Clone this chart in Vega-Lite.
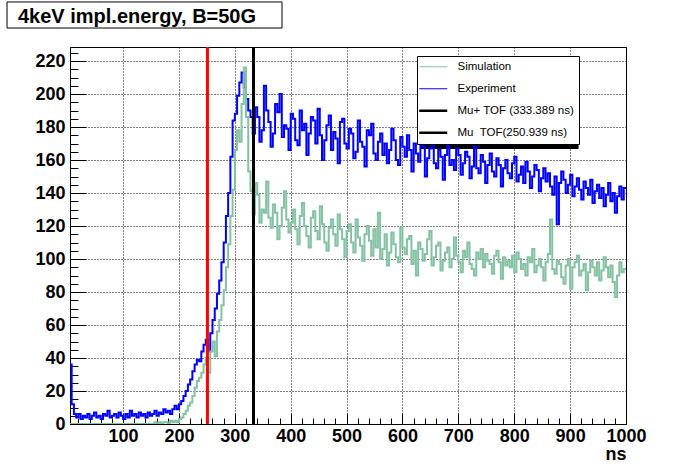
{
  "$schema": "https://vega.github.io/schema/vega-lite/v6.json",
  "width": 556,
  "height": 377,
  "autosize": {"type": "none"},
  "padding": {"left": 70, "top": 47, "right": 70, "bottom": 48},
  "background": "white",
  "config": {
    "font": "Liberation Sans",
    "view": {"stroke": "black", "strokeWidth": 1},
    "axis": {
      "labelFont": "Liberation Sans", "labelFontSize": 18, "labelFontWeight": "bold", "labelColor": "black",
      "titleFont": "Liberation Sans", "titleColor": "black",
      "tickColor": "black", "tickWidth": 1, "domainColor": "black",
      "gridColor": "black", "gridDash": [1, 2], "gridWidth": 1
    }
  },
  "datasets": {
    "hist": [
      {"t":4,"Experiment":36,"Simulation":0},{"t":8,"Experiment":12,"Simulation":0},{"t":12,"Experiment":6,"Simulation":0},{"t":16,"Experiment":4,"Simulation":0},{"t":20,"Experiment":6,"Simulation":0},
      {"t":24,"Experiment":3,"Simulation":0},{"t":28,"Experiment":5,"Simulation":0},{"t":32,"Experiment":4,"Simulation":0},{"t":36,"Experiment":6,"Simulation":0},{"t":40,"Experiment":3,"Simulation":0},
      {"t":44,"Experiment":5,"Simulation":0},{"t":48,"Experiment":7,"Simulation":0},{"t":52,"Experiment":4,"Simulation":0},{"t":56,"Experiment":5,"Simulation":0},{"t":60,"Experiment":3,"Simulation":0},
      {"t":64,"Experiment":6,"Simulation":0},{"t":68,"Experiment":5,"Simulation":0},{"t":72,"Experiment":8,"Simulation":0},{"t":76,"Experiment":4,"Simulation":0},{"t":80,"Experiment":5,"Simulation":0},
      {"t":84,"Experiment":6,"Simulation":0},{"t":88,"Experiment":4,"Simulation":0},{"t":92,"Experiment":7,"Simulation":0},{"t":96,"Experiment":5,"Simulation":0},{"t":100,"Experiment":3,"Simulation":0},
      {"t":104,"Experiment":6,"Simulation":0},{"t":108,"Experiment":4,"Simulation":0},{"t":112,"Experiment":8,"Simulation":0},{"t":116,"Experiment":5,"Simulation":0},{"t":120,"Experiment":6,"Simulation":0},
      {"t":124,"Experiment":4,"Simulation":0},{"t":128,"Experiment":7,"Simulation":0},{"t":132,"Experiment":5,"Simulation":0},{"t":136,"Experiment":6,"Simulation":0},{"t":140,"Experiment":4,"Simulation":0},
      {"t":144,"Experiment":7,"Simulation":0},{"t":148,"Experiment":5,"Simulation":0},{"t":152,"Experiment":6,"Simulation":0},{"t":156,"Experiment":8,"Simulation":1},{"t":160,"Experiment":5,"Simulation":0},
      {"t":164,"Experiment":7,"Simulation":1},{"t":168,"Experiment":6,"Simulation":0},{"t":172,"Experiment":9,"Simulation":1},{"t":176,"Experiment":7,"Simulation":1},{"t":180,"Experiment":8,"Simulation":0},
      {"t":184,"Experiment":6,"Simulation":2},{"t":188,"Experiment":9,"Simulation":1},{"t":192,"Experiment":11,"Simulation":2},{"t":196,"Experiment":9,"Simulation":1},{"t":200,"Experiment":12,"Simulation":3},
      {"t":204,"Experiment":14,"Simulation":4},{"t":208,"Experiment":17,"Simulation":6},{"t":212,"Experiment":20,"Simulation":8},{"t":216,"Experiment":24,"Simulation":11},{"t":220,"Experiment":27,"Simulation":13},
      {"t":224,"Experiment":32,"Simulation":17},{"t":228,"Experiment":36,"Simulation":22},{"t":232,"Experiment":39,"Simulation":26},{"t":236,"Experiment":38,"Simulation":28},{"t":240,"Experiment":44,"Simulation":31},
      {"t":244,"Experiment":48,"Simulation":36},{"t":248,"Experiment":51,"Simulation":40},{"t":252,"Experiment":44,"Simulation":31},{"t":256,"Experiment":55,"Simulation":44},{"t":260,"Experiment":63,"Simulation":50},
      {"t":264,"Experiment":70,"Simulation":41},{"t":268,"Experiment":79,"Simulation":56},{"t":272,"Experiment":87,"Simulation":63},{"t":276,"Experiment":98,"Simulation":72},{"t":280,"Experiment":110,"Simulation":81},
      {"t":284,"Experiment":126,"Simulation":95},{"t":288,"Experiment":140,"Simulation":109},{"t":292,"Experiment":162,"Simulation":126},{"t":296,"Experiment":184,"Simulation":142},{"t":300,"Experiment":188,"Simulation":166},
      {"t":304,"Experiment":199,"Simulation":178},{"t":308,"Experiment":207,"Simulation":171},{"t":312,"Experiment":213,"Simulation":194},{"t":316,"Experiment":204,"Simulation":216},{"t":320,"Experiment":197,"Simulation":186},
      {"t":324,"Experiment":190,"Simulation":153},{"t":328,"Experiment":186,"Simulation":141},{"t":332,"Experiment":176,"Simulation":127},{"t":336,"Experiment":192,"Simulation":146},{"t":340,"Experiment":186,"Simulation":139},
      {"t":344,"Experiment":171,"Simulation":122},{"t":348,"Experiment":178,"Simulation":130},{"t":352,"Experiment":205,"Simulation":128},{"t":356,"Experiment":190,"Simulation":147},{"t":360,"Experiment":183,"Simulation":125},
      {"t":364,"Experiment":168,"Simulation":119},{"t":368,"Experiment":176,"Simulation":133},{"t":372,"Experiment":194,"Simulation":128},{"t":376,"Experiment":189,"Simulation":112},{"t":380,"Experiment":200,"Simulation":120},
      {"t":384,"Experiment":174,"Simulation":131},{"t":388,"Experiment":181,"Simulation":141},{"t":392,"Experiment":179,"Simulation":124},{"t":396,"Experiment":166,"Simulation":116},{"t":400,"Experiment":188,"Simulation":122},
      {"t":404,"Experiment":185,"Simulation":130},{"t":408,"Experiment":172,"Simulation":118},{"t":412,"Experiment":169,"Simulation":109},{"t":416,"Experiment":190,"Simulation":126},{"t":420,"Experiment":178,"Simulation":134},
      {"t":424,"Experiment":182,"Simulation":120},{"t":428,"Experiment":163,"Simulation":114},{"t":432,"Experiment":176,"Simulation":107},{"t":436,"Experiment":186,"Simulation":125},{"t":440,"Experiment":184,"Simulation":129},
      {"t":444,"Experiment":170,"Simulation":117},{"t":448,"Experiment":191,"Simulation":112},{"t":452,"Experiment":175,"Simulation":132},{"t":456,"Experiment":160,"Simulation":121},{"t":460,"Experiment":172,"Simulation":110},
      {"t":464,"Experiment":181,"Simulation":105},{"t":468,"Experiment":187,"Simulation":119},{"t":472,"Experiment":166,"Simulation":124},{"t":476,"Experiment":177,"Simulation":115},{"t":480,"Experiment":173,"Simulation":108},
      {"t":484,"Experiment":158,"Simulation":127},{"t":488,"Experiment":183,"Simulation":118},{"t":492,"Experiment":185,"Simulation":112},{"t":496,"Experiment":170,"Simulation":101},{"t":500,"Experiment":167,"Simulation":117},
      {"t":504,"Experiment":179,"Simulation":121},{"t":508,"Experiment":176,"Simulation":110},{"t":512,"Experiment":161,"Simulation":104},{"t":516,"Experiment":165,"Simulation":124},{"t":520,"Experiment":184,"Simulation":113},
      {"t":524,"Experiment":171,"Simulation":108},{"t":528,"Experiment":168,"Simulation":99},{"t":532,"Experiment":156,"Simulation":115},{"t":536,"Experiment":178,"Simulation":120},{"t":540,"Experiment":175,"Simulation":111},
      {"t":544,"Experiment":182,"Simulation":102},{"t":548,"Experiment":164,"Simulation":118},{"t":552,"Experiment":160,"Simulation":107},{"t":556,"Experiment":171,"Simulation":128},{"t":560,"Experiment":176,"Simulation":100},
      {"t":564,"Experiment":163,"Simulation":106},{"t":568,"Experiment":170,"Simulation":115},{"t":572,"Experiment":158,"Simulation":96},{"t":576,"Experiment":166,"Simulation":104},{"t":580,"Experiment":179,"Simulation":116},
      {"t":584,"Experiment":172,"Simulation":109},{"t":588,"Experiment":160,"Simulation":101},{"t":592,"Experiment":157,"Simulation":98},{"t":596,"Experiment":174,"Simulation":119},{"t":600,"Experiment":168,"Simulation":107},
      {"t":604,"Experiment":162,"Simulation":103},{"t":608,"Experiment":175,"Simulation":112},{"t":612,"Experiment":166,"Simulation":114},{"t":616,"Experiment":153,"Simulation":97},{"t":620,"Experiment":170,"Simulation":105},
      {"t":624,"Experiment":164,"Simulation":90},{"t":628,"Experiment":159,"Simulation":110},{"t":632,"Experiment":172,"Simulation":106},{"t":636,"Experiment":168,"Simulation":99},{"t":640,"Experiment":150,"Simulation":103},
      {"t":644,"Experiment":161,"Simulation":112},{"t":648,"Experiment":167,"Simulation":117},{"t":652,"Experiment":173,"Simulation":96},{"t":656,"Experiment":158,"Simulation":101},{"t":660,"Experiment":155,"Simulation":108},
      {"t":664,"Experiment":166,"Simulation":110},{"t":668,"Experiment":162,"Simulation":93},{"t":672,"Experiment":148,"Simulation":99},{"t":676,"Experiment":163,"Simulation":104},{"t":680,"Experiment":171,"Simulation":107},
      {"t":684,"Experiment":157,"Simulation":95},{"t":688,"Experiment":160,"Simulation":100},{"t":692,"Experiment":154,"Simulation":113},{"t":696,"Experiment":167,"Simulation":102},{"t":700,"Experiment":163,"Simulation":98},
      {"t":704,"Experiment":151,"Simulation":92},{"t":708,"Experiment":158,"Simulation":105},{"t":712,"Experiment":165,"Simulation":101},{"t":716,"Experiment":162,"Simulation":110},{"t":720,"Experiment":149,"Simulation":97},
      {"t":724,"Experiment":156,"Simulation":94},{"t":728,"Experiment":168,"Simulation":90},{"t":732,"Experiment":155,"Simulation":104},{"t":736,"Experiment":152,"Simulation":100},{"t":740,"Experiment":163,"Simulation":106},
      {"t":744,"Experiment":159,"Simulation":95},{"t":748,"Experiment":146,"Simulation":103},{"t":752,"Experiment":157,"Simulation":99},{"t":756,"Experiment":164,"Simulation":97},{"t":760,"Experiment":153,"Simulation":91},
      {"t":764,"Experiment":150,"Simulation":102},{"t":768,"Experiment":161,"Simulation":105},{"t":772,"Experiment":157,"Simulation":98},{"t":776,"Experiment":144,"Simulation":88},{"t":780,"Experiment":155,"Simulation":101},
      {"t":784,"Experiment":160,"Simulation":96},{"t":788,"Experiment":152,"Simulation":99},{"t":792,"Experiment":149,"Simulation":95},{"t":796,"Experiment":158,"Simulation":102},{"t":800,"Experiment":162,"Simulation":92},
      {"t":804,"Experiment":147,"Simulation":104},{"t":808,"Experiment":151,"Simulation":100},{"t":812,"Experiment":156,"Simulation":94},{"t":816,"Experiment":146,"Simulation":97},{"t":820,"Experiment":159,"Simulation":90},
      {"t":824,"Experiment":153,"Simulation":101},{"t":828,"Experiment":143,"Simulation":98},{"t":832,"Experiment":150,"Simulation":106},{"t":836,"Experiment":157,"Simulation":92},{"t":840,"Experiment":154,"Simulation":96},
      {"t":844,"Experiment":141,"Simulation":100},{"t":848,"Experiment":149,"Simulation":95},{"t":852,"Experiment":155,"Simulation":87},{"t":856,"Experiment":147,"Simulation":98},{"t":860,"Experiment":152,"Simulation":103},
      {"t":864,"Experiment":144,"Simulation":124},{"t":868,"Experiment":139,"Simulation":94},{"t":872,"Experiment":150,"Simulation":91},{"t":876,"Experiment":121,"Simulation":99},{"t":880,"Experiment":146,"Simulation":97},
      {"t":884,"Experiment":153,"Simulation":89},{"t":888,"Experiment":148,"Simulation":85},{"t":892,"Experiment":140,"Simulation":96},{"t":896,"Experiment":145,"Simulation":100},{"t":900,"Experiment":151,"Simulation":82},
      {"t":904,"Experiment":138,"Simulation":95},{"t":908,"Experiment":144,"Simulation":98},{"t":912,"Experiment":149,"Simulation":102},{"t":916,"Experiment":142,"Simulation":90},{"t":920,"Experiment":136,"Simulation":93},
      {"t":924,"Experiment":147,"Simulation":97},{"t":928,"Experiment":143,"Simulation":81},{"t":932,"Experiment":139,"Simulation":92},{"t":936,"Experiment":148,"Simulation":99},{"t":940,"Experiment":134,"Simulation":95},
      {"t":944,"Experiment":141,"Simulation":90},{"t":948,"Experiment":145,"Simulation":98},{"t":952,"Experiment":137,"Simulation":87},{"t":956,"Experiment":143,"Simulation":93},{"t":960,"Experiment":132,"Simulation":101},
      {"t":964,"Experiment":139,"Simulation":95},{"t":968,"Experiment":146,"Simulation":89},{"t":972,"Experiment":135,"Simulation":96},{"t":976,"Experiment":140,"Simulation":86},{"t":980,"Experiment":128,"Simulation":77},
      {"t":984,"Experiment":138,"Simulation":90},{"t":988,"Experiment":144,"Simulation":98},{"t":992,"Experiment":136,"Simulation":92},{"t":996,"Experiment":143,"Simulation":94},{"t":1000,"Experiment":143,"Simulation":94}
    ],
    "tof": [
      {"name": "Mu+ TOF (333.389 ns)", "t": 333.389},
      {"name": "Mu\u00a0 TOF(250.939 ns)", "t": 250.939}
    ]
  },
  "layer": [
    {
      "data": {"values": [{}]},
      "mark": {"type": "rect", "clip": false, "fill": "white", "stroke": "black", "strokeWidth": 1},
      "encoding": {
        "x": {"datum": -107.7, "type": "quantitative", "scale": {"domain": [5, 1000]}},
        "x2": {"datum": 384.4},
        "y": {"datum": 255.8, "type": "quantitative", "scale": {"domain": [0, 228.5]}},
        "y2": {"datum": 240}
      }
    },
    {
      "data": {"values": [{"label": "4keV impl.energy, B=50G"}]},
      "mark": {"type": "text", "clip": false, "align": "left", "baseline": "alphabetic", "font": "Liberation Sans", "fontSize": 20, "fontWeight": "bold", "color": "black"},
      "encoding": {
        "x": {"datum": -88.1, "type": "quantitative", "scale": {"domain": [5, 1000]}},
        "y": {"datum": 243, "type": "quantitative", "scale": {"domain": [0, 228.5]}},
        "text": {"field": "label"}
      }
    },
    {
      "data": {"values": [{}]},
      "mark": {"type": "rect", "clip": false, "fill": "black"},
      "encoding": {
        "x": {"datum": 633.1, "type": "quantitative", "scale": {"domain": [5, 1000]}},
        "x2": {"datum": 915},
        "y": {"datum": 220.6, "type": "quantitative", "scale": {"domain": [0, 228.5]}},
        "y2": {"datum": 166.7}
      }
    },
    {
      "data": {"name": "hist"},
      "transform": [{"fold": ["Experiment", "Simulation"], "as": ["series", "count"]}],
      "mark": {"type": "line", "interpolate": "step-after", "strokeWidth": 2, "clip": true},
      "encoding": {
        "x": {
          "field": "t", "type": "quantitative", "scale": {"domain": [5, 1000]},
          "axis": {
            "orient": "bottom",
            "values": [20, 40, 60, 80, 100, 120, 140, 160, 180, 200, 220, 240, 260, 280, 300, 320, 340, 360, 380, 400, 420, 440, 460, 480, 500, 520, 540, 560, 580, 600, 620, 640, 660, 680, 700, 720, 740, 760, 780, 800, 820, 840, 860, 880, 900, 920, 940, 960, 980, 1000],
            "tickCount": 1000,
            "format": "d",
            "labelExpr": "datum.value % 100 === 0 ? datum.label : ''",
            "labelOverlap": false, "labelBound": false,
            "tickSize": {"condition": {"test": "datum.value % 100 === 0", "value": -11}, "value": -6},
            "gridOpacity": {"condition": {"test": "datum.value % 100 === 0", "value": 1}, "value": 0},
            "labelPadding": 14, "labelFlush": false, "grid": true,
            "title": "ns", "titleFontSize": 18, "titleFontWeight": "bold",
            "titleAnchor": "end", "titleAlign": "right", "titleX": 556, "titleY": 35, "titleBaseline": "alphabetic"
          }
        },
        "y": {
          "field": "count", "type": "quantitative", "scale": {"domain": [0, 228.5]},
          "axis": {
            "orient": "left",
            "values": [0, 5, 10, 15, 20, 25, 30, 35, 40, 45, 50, 55, 60, 65, 70, 75, 80, 85, 90, 95, 100, 105, 110, 115, 120, 125, 130, 135, 140, 145, 150, 155, 160, 165, 170, 175, 180, 185, 190, 195, 200, 205, 210, 215, 220, 225],
            "tickCount": 1000,
            "format": "d",
            "labelExpr": "datum.value % 20 === 0 ? datum.label : ''",
            "labelOverlap": false, "labelBound": false,
            "tickSize": {"condition": {"test": "datum.value % 20 === 0", "value": -16}, "value": -8},
            "gridOpacity": {"condition": {"test": "datum.value % 20 === 0", "value": 1}, "value": 0},
            "labelPadding": 21, "grid": true, "title": null
          }
        },
        "color": {
          "field": "series", "type": "nominal",
          "scale": {"domain": ["Simulation", "Experiment", "Mu+ TOF (333.389 ns)", "Mu\u00a0 TOF(250.939 ns)"], "range": ["#85c2a3", "#0000ff", "#000000", "#000000"]},
          "legend": {
            "orient": "none", "legendX": 347, "legendY": 9, "title": null,
            "symbolType": "stroke", "symbolSize": 784, "symbolStrokeWidth": 1, "symbolOffset": 5.5,
            "labelFont": "Liberation Sans", "labelFontSize": 11.5, "labelFontWeight": "normal", "labelColor": "black",
            "labelOffset": 18.5, "fillColor": "white", "strokeColor": "black", "padding": 5, "rowPadding": 9,
            "encode": {"symbols": {"update": {"strokeWidth": {"signal": "datum.index >= 2 ? 2.5 : 1"}}}}
          }
        }
      }
    },
    {
      "data": {"name": "tof"},
      "mark": {"type": "rule", "strokeWidth": 3},
      "encoding": {
        "x": {"field": "t", "type": "quantitative", "scale": {"domain": [5, 1000]}},
        "color": {
          "field": "name", "type": "nominal",
          "condition": {"test": "datum.t < 300", "value": "#ff0000"}
        }
      }
    }
  ]
}
